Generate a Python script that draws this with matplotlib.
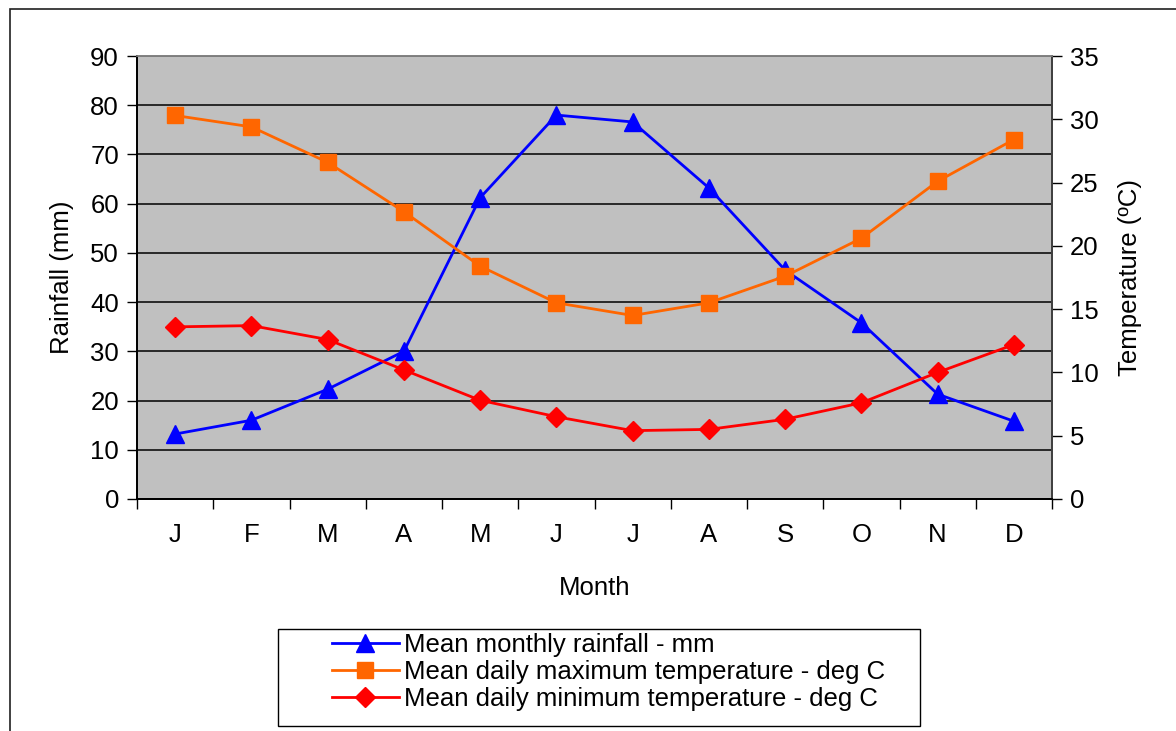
import matplotlib
matplotlib.use("Agg")
import matplotlib.pyplot as plt
from matplotlib.patches import Rectangle

plt.rcParams['font.family'] = ['Liberation Sans', 'DejaVu Sans']

months = ['J', 'F', 'M', 'A', 'M', 'J', 'J', 'A', 'S', 'O', 'N', 'D']
rainfall = [13.2, 16.0, 22.3, 30.0, 61.2, 78.0, 76.6, 63.2, 46.5, 35.8, 21.3, 15.8]
max_temp = [30.3, 29.4, 26.6, 22.7, 18.4, 15.5, 14.5, 15.5, 17.6, 20.6, 25.1, 28.4]
min_temp = [13.6, 13.7, 12.6, 10.2, 7.8, 6.5, 5.4, 5.5, 6.3, 7.6, 10.0, 12.2]

W, H = 1176, 731
fig = plt.figure(figsize=(W / 100, H / 100), dpi=100)

x0, x1, y0, y1 = 137, 1052, 56, 499
ax = fig.add_axes([x0 / W, 1 - y1 / H, (x1 - x0) / W, (y1 - y0) / H])
ax.set_facecolor('#C0C0C0')
ax2 = ax.twinx()

xs = list(range(len(months)))
fs = 18.5

ax.plot(xs, rainfall, color='#0000FF', lw=2, marker='^', ms=13, mfc='#0000FF', mec='#0000FF', zorder=3,
        label='Mean monthly rainfall - mm')
ax2.plot(xs, max_temp, color='#FF6600', lw=2, marker='s', ms=12, mfc='#FF6600', mec='#FF6600',
         label='Mean daily maximum temperature - deg C')
ax2.plot(xs, min_temp, color='#FF0000', lw=2, marker='D', ms=10, mfc='#FF0000', mec='#FF0000',
         label='Mean daily minimum temperature - deg C')

ax.set_xlim(-0.5, len(months) - 0.5)
ax.set_ylim(0, 90)
ax.set_yticks(range(0, 91, 10))
ax2.set_ylim(0, 35)
ax2.set_yticks(range(0, 36, 5))

ax.yaxis.grid(True, color='black', lw=1.1)
ax.set_axisbelow(True)

ax.set_xticks(xs)
ax.set_xticklabels(months, fontsize=fs)
ax.set_xticks([i - 0.5 for i in range(len(months) + 1)], minor=True)
ax.tick_params(axis='x', which='major', length=0, pad=17)
ax.tick_params(axis='x', which='minor', length=7, width=1, direction='out', color='black')
ax.tick_params(axis='y', labelsize=fs, length=7, width=1, direction='out', pad=6)
ax2.tick_params(axis='y', labelsize=fs, length=7, width=1, direction='out', pad=6)

for a in (ax, ax2):
    a.spines['top'].set_color('#808080')
    a.spines['top'].set_linewidth(1.2)
    a.spines['left'].set_color('black')
    a.spines['bottom'].set_color('black')
    a.spines['right'].set_color('#404040')
    for s in ('left', 'bottom', 'right'):
        a.spines[s].set_linewidth(1.3)

ax.set_ylabel('Rainfall (mm)', fontsize=fs, labelpad=12)
ax.set_xlabel('Month', fontsize=fs, labelpad=21)
ax2.set_ylabel('Temperature (ºC)', fontsize=fs, labelpad=14)

# outer chart frame
fig.add_artist(Rectangle((10 / W, -0.05), 1.2, 1 - 9 / H + 0.05, transform=fig.transFigure,
                         fill=False, edgecolor='#202020', lw=1.2))

# legend frame
fig.add_artist(Rectangle((278 / W, 1 - 726 / H), (920 - 278) / W, (726 - 629) / H,
                         transform=fig.transFigure, fill=False, edgecolor='black', lw=1.0))

handles = [ax.get_lines()[0]] + ax2.get_lines()
labels = [h.get_label() for h in handles]
leg = fig.legend(handles, labels, loc='upper left', bbox_to_anchor=(332 / W, 1 - 633 / H),
                 fontsize=fs, frameon=False,
                 handlelength=2.6, handletextpad=0.2, labelspacing=0.12, borderpad=0,
                 borderaxespad=0)

fig.savefig('out.png', dpi=100, facecolor='white')
